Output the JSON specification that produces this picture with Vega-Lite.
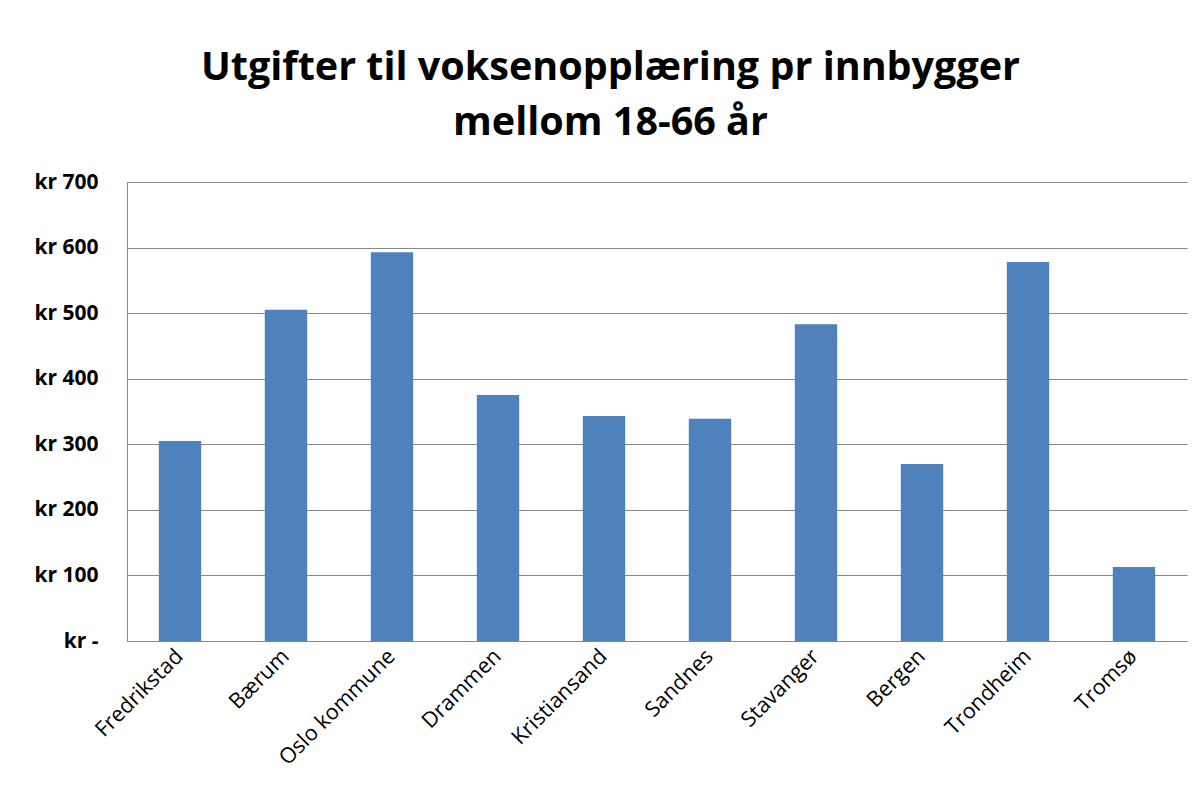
{
  "$schema": "https://vega.github.io/schema/vega-lite/v6.json",
  "width": 1060,
  "height": 459,
  "autosize": {"type": "none"},
  "padding": {"left": 127, "top": 182, "right": 14, "bottom": 166},
  "background": "white",
  "title": {
    "text": ["Utgifter til voksenopplæring pr innbygger", "mellom 18-66 år"],
    "font": "Open Sans",
    "fontSize": 39.5,
    "fontWeight": "bold",
    "color": "#000000",
    "lineHeight": 55,
    "anchor": "middle",
    "frame": "bounds",
    "offset": 28
  },
  "data": {
    "values": [
      {"kommune": "Fredrikstad", "utgift": 305},
      {"kommune": "Bærum", "utgift": 505},
      {"kommune": "Oslo kommune", "utgift": 593},
      {"kommune": "Drammen", "utgift": 375},
      {"kommune": "Kristiansand", "utgift": 343},
      {"kommune": "Sandnes", "utgift": 339},
      {"kommune": "Stavanger", "utgift": 483},
      {"kommune": "Bergen", "utgift": 270},
      {"kommune": "Trondheim", "utgift": 578},
      {"kommune": "Tromsø", "utgift": 113}
    ]
  },
  "mark": {"type": "bar", "color": "#4f81bd"},
  "encoding": {
    "x": {
      "field": "kommune",
      "type": "nominal",
      "sort": null,
      "scale": {"paddingInner": 0.6, "paddingOuter": 0.3},
      "axis": {
        "title": null,
        "labelAngle": -45,
        "labelAlign": "right",
        "labelBaseline": "middle",
        "labelFont": "Open Sans",
        "labelFontSize": 21.5,
        "labelColor": "#000000",
        "labelPadding": 12,
        "ticks": false,
        "domainColor": "#888888",
        "labelOverlap": false
      }
    },
    "y": {
      "field": "utgift",
      "type": "quantitative",
      "scale": {"domain": [0, 700], "nice": false},
      "axis": {
        "title": null,
        "values": [0, 100, 200, 300, 400, 500, 600, 700],
        "labelExpr": "datum.value == 0 ? 'kr -\u00a0\u00a0' : 'kr ' + datum.value",
        "labelFont": "Open Sans",
        "labelFontSize": 21,
        "labelFontWeight": "bold",
        "labelColor": "#000000",
        "labelPadding": 29,
        "ticks": false,
        "domain": true,
        "domainColor": "#888888",
        "gridColor": "#888888",
        "gridWidth": 1
      }
    }
  },
  "config": {"view": {"stroke": null}}
}
